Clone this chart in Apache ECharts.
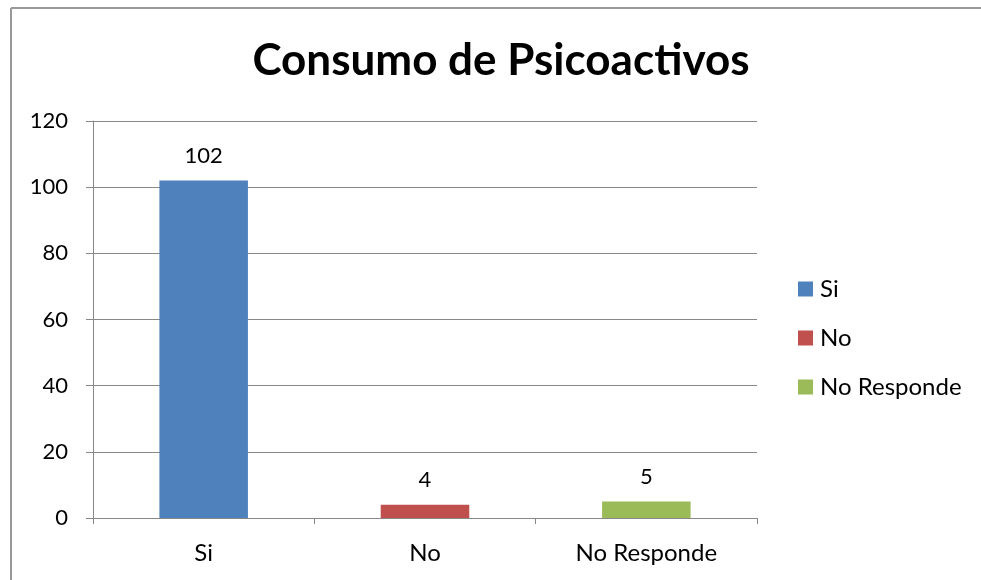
<!DOCTYPE html>
<html><head><meta charset="utf-8">
<script src="https://cdn.jsdelivr.net/npm/echarts@6/dist/echarts.min.js"></script>
<style>html,body{margin:0;padding:0;background:#fff}#c{width:981px;height:580px}</style>
</head><body><div id="c"></div>
<script>
const categories = ['Si', 'No', 'No Responde'];
const seriesNames = ['Si', 'No', 'No Responde'];
const siValues = [102, '-', '-'];
const noValues = ['-', 4, '-'];
const noRespondeValues = ['-', '-', 5];
const yTicks = {min: 0, max: 120, interval: 20};
const colors = ['#4F81BD', '#C0504D', '#9BBB59'];
const FONT = 'Lato';

const chart = echarts.init(document.getElementById('c'));
const mk = (name, data, color) => ({
  name, type: 'bar', stack: 'one', data, barWidth: '40%',
  itemStyle: {color},
  label: {show: true, position: 'top', distance: 14, color: '#000', fontSize: 22, fontFamily: FONT}
});
chart.setOption({
  animation: false,
  textStyle: {fontFamily: FONT},
  title: {text: 'Consumo de Psicoactivos', left: 496, top: 34, textAlign: 'center',
    textStyle: {fontSize: 44, fontWeight: 'bold', color: '#000', fontFamily: FONT}},
  legend: {orient: 'vertical', left: 798, top: 277, padding: 0, itemWidth: 15, itemHeight: 15, itemGap: 25,
    icon: 'rect', data: seriesNames,
    textStyle: {fontSize: 24, color: '#000', fontFamily: FONT, padding: [0,0,0,2]}},
  grid: {left: 93, top: 121, width: 664, height: 397, containLabel: false},
  xAxis: {type: 'category', data: categories,
    axisLine: {lineStyle: {color: '#888', width: 1}},
    axisTick: {show: true, length: 6, lineStyle: {color: '#888'}},
    axisLabel: {fontSize: 24, color: '#000', margin: 23, fontFamily: FONT}},
  yAxis: {type: 'value', min: yTicks.min, max: yTicks.max, interval: yTicks.interval,
    axisLine: {show: true, lineStyle: {color: '#888'}},
    axisTick: {show: true, length: 7, lineStyle: {color: '#888'}},
    axisLabel: {fontSize: 22, color: '#000', margin: 25, fontFamily: FONT},
    splitLine: {lineStyle: {color: '#888', width: 1}}},
  graphic: [
    {type: 'line', shape: {x1: 11, y1: 8, x2: 981, y2: 8}, style: {stroke: '#999', lineWidth: 2}},
    {type: 'line', shape: {x1: 11, y1: 8, x2: 11, y2: 580}, style: {stroke: '#999', lineWidth: 2}}
  ],
  series: [mk(seriesNames[0], siValues, colors[0]), mk(seriesNames[1], noValues, colors[1]), mk(seriesNames[2], noRespondeValues, colors[2])]
});
</script></body></html>
